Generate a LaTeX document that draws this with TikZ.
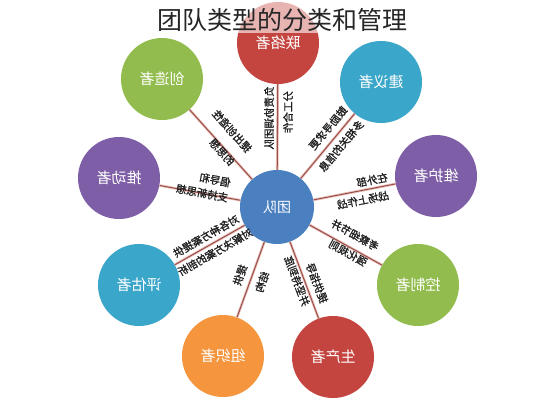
\documentclass[tikz,border=0pt]{standalone}
\usepackage{fontspec}
\usepackage{graphicx}
\newfontfamily\cjk{Noto Sans CJK SC}
\newfontfamily\cjkb[FakeBold=1.2]{Noto Sans CJK SC}
\definecolor{cred}{HTML}{C4453F}
\definecolor{cblue}{HTML}{4A7FC0}
\definecolor{ccyan}{HTML}{3AA6C9}
\definecolor{cpurple}{HTML}{7E5EA6}
\definecolor{cgreen}{HTML}{92BD4E}
\definecolor{corange}{HTML}{F5963E}
\definecolor{spokedark}{HTML}{9C4E4A}
\definecolor{spokelight}{HTML}{E8C2BB}
\newcommand{\mir}[1]{\scalebox{-1}[1]{#1}}
\begin{document}
\begin{tikzpicture}[x=1pt,y=-1pt,
  role/.style={circle, minimum size=82pt, inner sep=0pt, text=white,
    font=\cjk\fontsize{15}{15}\selectfont},
  lab/.style={inner sep=0pt, text=black!88, font=\cjkb\fontsize{10.5}{11}\selectfont},
  spokeo/.style={draw=spokelight, line width=2.6pt},
  spokei/.style={draw=spokedark, line width=1pt}]
\useasboundingbox (0,0) rectangle (557,400);
\fill[white] (0,0) rectangle (557,400);
% role circles
\node[role, fill=cred]    (lianluo)  at (278,43)  {\mir{联络者}};
\node[role, fill=ccyan]   (jianyi)   at (381,82)  {\mir{建议者}};
\node[role, fill=cpurple] (weihu)    at (436,176) {\mir{维护者}};
\node[role, fill=cgreen]  (kongzhi)  at (418,285) {\mir{控制者}};
\node[role, fill=cred]    (shengchan) at (333,357) {\mir{生产者}};
\node[role, fill=corange] (zuzhi)    at (223,356) {\mir{组织者}};
\node[role, fill=ccyan]   (pinggu)   at (139,285) {\mir{评估者}};
\node[role, fill=cpurple] (tuidong)  at (119,178) {\mir{推动者}};
\node[role, fill=cgreen]  (chuangzao) at (162,79) {\mir{创造者}};
\node[role, fill=cblue, minimum size=74pt, font=\cjk\fontsize{14}{14}\selectfont]
  (team) at (277,207) {\mir{团队}};
% spokes
\foreach \n in {lianluo,jianyi,weihu,kongzhi,shengchan,zuzhi,pinggu,tuidong,chuangzao}{
  \draw[spokeo] (team) -- (\n);
  \draw[spokei] (team) -- (\n);
}
% labels
\node[lab, rotate=90]    (la1) at (269,118) {\mir{负责协调团队}};
\node[lab, rotate=90]    (la2) at (288,112) {\mir{分工合作}};
\node[lab, rotate=-48.3] (lb1) at (232,131) {\mir{提出创造性}};
\node[lab, rotate=-48.3] (lb2) at (222,152) {\mir{的思想}};
\node[lab, rotate=50]    (lc1) at (328,128) {\mir{鼓励寻求更}};
\node[lab, rotate=50]    (lc2) at (341,146) {\mir{多相关的信息}};
\node[lab, rotate=11]    (ld1) at (372,180) {\mir{在外部}};
\node[lab, rotate=11]    (ld2) at (363,200) {\mir{战场上作战}};
\node[lab, rotate=-28.8] (le1) at (355,235) {\mir{考察细节并}};
\node[lab, rotate=-28.8] (le2) at (348,253) {\mir{强化规则}};
\node[lab, rotate=-69.2] (lf1) at (317,283) {\mir{提供指导}};
\node[lab, rotate=-69.2] (lf2) at (297,281) {\mir{并坚持到底}};
\node[lab, rotate=70.4]  (lg1) at (240,275) {\mir{提供}};
\node[lab, rotate=70.4]  (lg2) at (262,282) {\mir{结构}};
\node[lab, rotate=29.7]  (lh1) at (206,236) {\mir{对各种方案提供}};
\node[lab, rotate=29.7]  (lh2) at (215,252) {\mir{对解决方案的剖析}};
\node[lab, rotate=-10.5] (li1) at (215,180) {\mir{倡导和}};
\node[lab, rotate=-10.5] (li2) at (202,193) {\mir{支持新思想}};
% title band and title
\fill[white, opacity=0.6] (0,0) rectangle (557,33);
\node[font=\cjk\fontsize{25}{25}\selectfont, text=black!85, inner sep=0pt] (title) at (282,20) {团队类型的分类和管理};
\end{tikzpicture}
\end{document}
